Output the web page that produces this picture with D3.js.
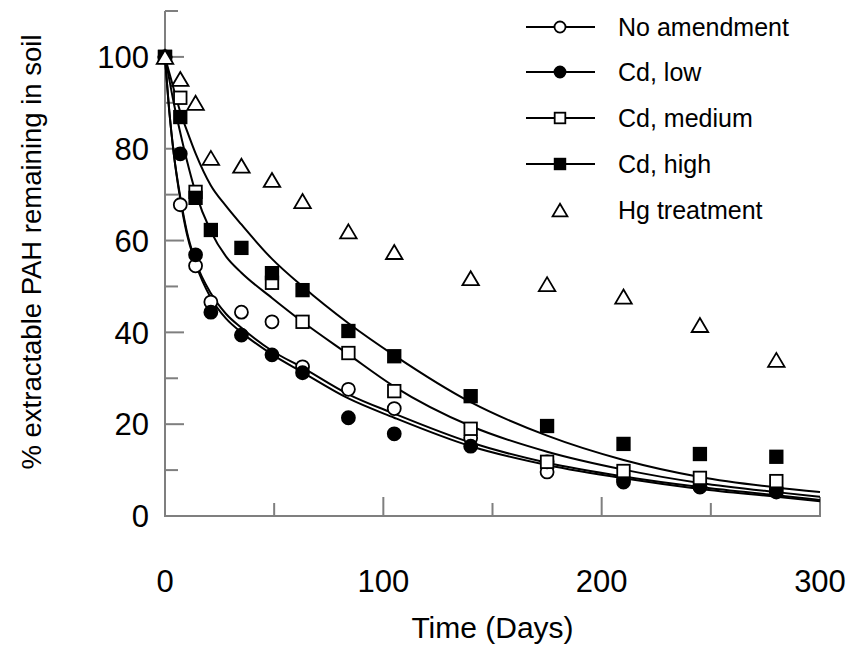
<!DOCTYPE html>
<html>
<head>
<meta charset="utf-8">
<script src="https://cdn.jsdelivr.net/npm/d3@7/dist/d3.min.js"></script>
<style>
  html, body { margin: 0; padding: 0; background: #fff; }
  svg { display: block; font-family: "Liberation Sans", Arial, sans-serif; }
</style>
</head>
<body>
<svg id="chart" width="849" height="648"></svg>
<script>
// Sampling days
const days = [0, 7, 14, 21, 35, 49, 63, 84, 105, 140, 175, 210, 245, 280];

// Measured % extractable PAH remaining
const noAmendment = [100, 67.8, 54.5, 46.6, 44.4, 42.3, 32.5, 27.6, 23.4, 17.0, 9.6, 8.0, 6.5, 5.8];
const cdLow       = [100, 78.9, 56.9, 44.4, 39.4, 35.1, 31.2, 21.4, 17.9, 15.2, 11.8, 7.4, 6.3, 5.2];
const cdMediumDays = [0, 7, 14, 49, 63, 84, 105, 140, 175, 210, 245, 280];
const cdMedium    = [100, 91.1, 70.6, 50.8, 42.3, 35.5, 27.2, 19.0, 11.8, 9.8, 8.3, 7.6];
const cdHigh      = [100, 86.9, 69.3, 62.3, 58.4, 52.9, 49.2, 40.3, 34.8, 26.1, 19.6, 15.7, 13.5, 12.9];
const hgTreatment = [100, 95.2, 90.0, 78.0, 76.3, 73.2, 68.6, 62.0, 57.5, 51.8, 50.5, 47.8, 41.6, 34.0];

// Fitted decline curves, read at these days
const fitDays   = [0, 2, 4, 7, 10, 14, 21, 28, 35, 49, 63, 84, 105, 140, 175, 210, 245, 280, 300];
const fitNA     = [100, 88, 79, 69.5, 62, 55.5, 48.5, 44, 41, 36, 32.3, 26.5, 22.3, 16.0, 11.6, 8.6, 6.3, 4.5, 3.5];
const fitLow    = [100, 88, 79, 69, 61.5, 55, 47.5, 43, 40, 35.2, 31.3, 25.6, 21.4, 15.2, 11.1, 8.2, 5.9, 4.2, 3.2];
const fitMedium = [100, 95, 90, 83.5, 77.5, 70.5, 62, 56.5, 53, 47.5, 42.3, 35.2, 28.2, 19.6, 14.0, 10.1, 7.2, 5.2, 4.2];
const fitHigh   = [100, 96.5, 93, 88, 84, 79, 72, 67.5, 63.5, 56, 50, 42, 35, 24.8, 17.5, 12.2, 8.5, 6.2, 5.2];

const xTicks = [0, 50, 100, 150, 200, 250, 300];
const xLabels = [0, 100, 200, 300];
const yTicks = [0, 10, 20, 30, 40, 50, 60, 70, 80, 90, 100, 110];
const yLabels = [0, 20, 40, 60, 80, 100];

const legendNames = ["No amendment", "Cd, low", "Cd, medium", "Cd, high", "Hg treatment"];

const svg = d3.select("#chart");
const x = d3.scaleLinear().domain([0, 300]).range([165, 820]);
const y = d3.scaleLinear().domain([0, 110]).range([516, 11]);

const axisColor = "#7f7f7f";
const tickFont = 31;
const legendFont = 25;

// Axes frame (left and bottom)
svg.append("line").attr("x1", x(0)).attr("x2", x(0)).attr("y1", y(110)).attr("y2", y(0))
  .attr("stroke", axisColor).attr("stroke-width", 2);
svg.append("line").attr("x1", x(0) - 1).attr("x2", x(300) + 1).attr("y1", y(0)).attr("y2", y(0))
  .attr("stroke", axisColor).attr("stroke-width", 2);

// Inward ticks
const majorLen = 19, minorLen = 13;
svg.append("g").selectAll("line").data(xTicks).join("line")
  .attr("x1", d => x(d)).attr("x2", d => x(d))
  .attr("y1", y(0)).attr("y2", d => y(0) - (xLabels.includes(d) ? majorLen : minorLen))
  .attr("stroke", axisColor).attr("stroke-width", 2);
svg.append("g").selectAll("line").data(yTicks).join("line")
  .attr("y1", d => y(d)).attr("y2", d => y(d))
  .attr("x1", x(0)).attr("x2", d => x(0) + (yLabels.includes(d) ? majorLen : minorLen))
  .attr("stroke", axisColor).attr("stroke-width", 2);

// Tick labels
svg.append("g").selectAll("text").data(xLabels).join("text")
  .attr("x", d => x(d)).attr("y", 592)
  .attr("text-anchor", "middle").attr("font-size", tickFont).attr("fill", "#000")
  .text(d => d);
svg.append("g").selectAll("text").data(yLabels).join("text")
  .attr("x", 149).attr("y", d => y(d)).attr("dy", "0.36em")
  .attr("text-anchor", "end").attr("font-size", tickFont).attr("fill", "#000")
  .text(d => d);

// Axis titles
svg.append("text").attr("x", x(150)).attr("y", 638)
  .attr("text-anchor", "middle").attr("font-size", 30).text("Time (Days)");
svg.append("text")
  .attr("transform", `translate(41, 252) rotate(-90)`)
  .attr("text-anchor", "middle").attr("font-size", 27.5)
  .text("% extractable PAH remaining in soil");

// Fitted curves
const line = d3.line().x(d => x(d[0])).y(d => y(d[1])).curve(d3.curveMonotoneX);
[fitNA, fitLow, fitMedium, fitHigh].forEach(vals => {
  svg.append("path")
    .datum(fitDays.map((t, i) => [t, vals[i]]))
    .attr("d", line).attr("fill", "none").attr("stroke", "#000").attr("stroke-width", 2);
});

// Marker drawing
function drawMarker(g, kind, cx, cy, scale = 1) {
  const sw = 1.8;
  if (kind === "openCircle" || kind === "filledCircle") {
    g.append("circle").attr("cx", cx).attr("cy", cy).attr("r", 6.5 * scale)
      .attr("fill", kind === "filledCircle" ? "#000" : "#fff").attr("stroke", "#000").attr("stroke-width", sw);
  } else if (kind === "openSquare" || kind === "filledSquare") {
    const s = 12.5 * scale;
    g.append("rect").attr("x", cx - s / 2).attr("y", cy - s / 2).attr("width", s).attr("height", s)
      .attr("fill", kind === "filledSquare" ? "#000" : "#fff").attr("stroke", "#000").attr("stroke-width", sw);
  } else {
    const w = 16.5 * scale, h = 14 * scale;
    g.append("path")
      .attr("d", `M${cx},${cy - h / 2}L${cx + w / 2},${cy + h / 2}L${cx - w / 2},${cy + h / 2}Z`)
      .attr("fill", "#fff").attr("stroke", "#000").attr("stroke-width", sw).attr("stroke-linejoin", "miter");
  }
}

const series = [
  { t: days, v: noAmendment, kind: "openCircle" },
  { t: days, v: cdLow, kind: "filledCircle" },
  { t: cdMediumDays, v: cdMedium, kind: "openSquare" },
  { t: days, v: cdHigh, kind: "filledSquare" },
  { t: days, v: hgTreatment, kind: "triangle" }
];
series.forEach(s => {
  const g = svg.append("g");
  s.t.forEach((t, i) => drawMarker(g, s.kind, x(t), y(s.v[i])));
});

// Legend
const legendRows = [27, 72, 118, 164, 210];
const lg = svg.append("g");
legendNames.forEach((name, i) => {
  const ly = legendRows[i];
  if (i < 4) {
    lg.append("line").attr("x1", 526).attr("x2", 595).attr("y1", ly).attr("y2", ly)
      .attr("stroke", "#000").attr("stroke-width", 2);
  }
  drawMarker(lg, series[i].kind, 560, ly, i === 4 ? 0.9 : 0.85);
  lg.append("text").attr("x", 618).attr("y", ly).attr("dy", "0.36em")
    .attr("font-size", legendFont).text(name);
});
</script>
</body>
</html>
